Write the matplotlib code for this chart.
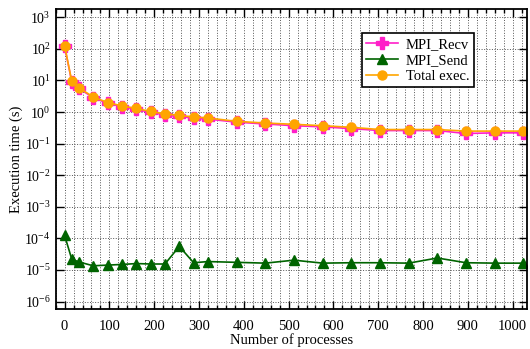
import matplotlib
matplotlib.use("Agg")
import matplotlib.pyplot as plt
from matplotlib.ticker import MultipleLocator, LogLocator, NullLocator

plt.rcParams['font.family'] = ['Liberation Serif', 'DejaVu Serif']
plt.rcParams['mathtext.fontset'] = 'custom'
plt.rcParams['mathtext.rm'] = 'Liberation Serif'

# data
procs = [0, 16, 32, 64, 96, 128, 160, 192, 224, 256, 288, 320,
         384, 448, 512, 576, 640, 704, 768, 832, 896, 960, 1024]
total_exec = [125, 9.5, 5.9, 3.0, 2.0, 1.57, 1.3, 1.05, 0.87, 0.79, 0.70, 0.65,
              0.51, 0.45, 0.41, 0.37, 0.33, 0.28, 0.28, 0.28, 0.25, 0.25, 0.25]
mpi_recv = [120, 9.0, 5.6, 2.85, 1.9, 1.5, 1.22, 0.98, 0.82, 0.74, 0.64, 0.60,
            0.48, 0.42, 0.37, 0.34, 0.30, 0.26, 0.26, 0.26, 0.21, 0.22, 0.22]
mpi_send = [1.24e-4, 2.2e-5, 1.8e-5, 1.36e-5, 1.43e-5, 1.5e-5, 1.6e-5, 1.55e-5,
            1.55e-5, 5.6e-5, 1.7e-5, 1.85e-5, 1.75e-5, 1.65e-5, 2.05e-5, 1.65e-5,
            1.7e-5, 1.7e-5, 1.65e-5, 2.4e-5, 1.7e-5, 1.65e-5, 1.65e-5]

fig = plt.figure(figsize=(5.3, 3.49), dpi=100)
ax = fig.add_axes([0.105, 0.115, 0.890, 0.858])

ax.plot(procs, mpi_recv, color='#ff1fc8', marker='P', markersize=8, lw=1.2,
        label='MPI_Recv')
ax.plot(procs, mpi_send, color='#006400', marker='^', markersize=6.5, lw=1.2,
        label='MPI_Send')
ax.plot(procs, total_exec, color='#ffa500', marker='o', markersize=6.5, lw=1.2,
        label='Total exec.')

ax.set_yscale('log')
ax.set_xlim(-20, 1033)
ax.set_ylim(10 ** -6.23, 10 ** 3.25)

ax.xaxis.set_major_locator(MultipleLocator(100))
ax.xaxis.set_minor_locator(MultipleLocator(20))
ax.yaxis.set_major_locator(LogLocator(base=10, numticks=20))
ax.yaxis.set_minor_locator(NullLocator())

ax.tick_params(which='both', direction='in', top=True, right=True)
ax.tick_params(axis='x', pad=8, labelsize=10.5)
ax.tick_params(axis='y', pad=3.5, labelsize=10)
ax.tick_params(which='major', length=6, width=1)
ax.tick_params(which='minor', length=3, width=1)

ax.grid(which='major', axis='both', color='#555555', linestyle=':', lw=0.7)
ax.grid(which='minor', axis='x', color='#555555', linestyle=':', lw=0.7)
ax.set_axisbelow(True)
for sp in ax.spines.values():
    sp.set_linewidth(1.3)

ax.set_xlabel('Number of processes', fontsize=10.5, labelpad=0)
ax.set_ylabel('Execution time (s)', fontsize=10.5)
ax.yaxis.set_label_coords(-0.07, 0.5)

leg = ax.legend(loc='upper left', bbox_to_anchor=(0.649, 0.921), fontsize=10.5,
                fancybox=False, framealpha=1, edgecolor='black',
                handlelength=2.2, borderpad=0.3, labelspacing=0.2,
                handletextpad=0.5, borderaxespad=0)
leg.get_frame().set_linewidth(1.2)

fig.savefig('out.png', dpi=100)
